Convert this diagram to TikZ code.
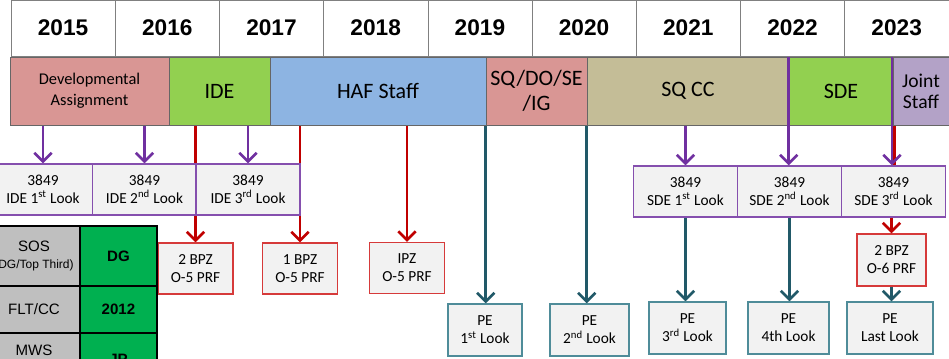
\documentclass[tikz,border=0pt]{standalone}
\usepackage{fontspec}
\setmainfont{Carlito}
\newfontfamily\arialfont{Liberation Sans}
\usetikzlibrary{arrows.meta,backgrounds}

\definecolor{devpink}{HTML}{D99694}
\definecolor{idegreen}{HTML}{92D050}
\definecolor{hafblue}{HTML}{8DB4E2}
\definecolor{sqcctan}{HTML}{C4BD97}
\definecolor{jointlav}{HTML}{B3A2C7}
\definecolor{lookpurple}{HTML}{7030A0}
\definecolor{prfred}{HTML}{C00000}
\definecolor{prfline}{HTML}{D63A3A}
\definecolor{peteal}{HTML}{215968}
\definecolor{peline}{HTML}{4F8C99}
\definecolor{boxgray}{HTML}{F2F2F2}
\definecolor{tabgray}{HTML}{BFBFBF}
\definecolor{tabgreen}{HTML}{00B050}

\begin{document}
\begin{tikzpicture}[
  x=0.75pt, y=-0.75pt,
  every node/.style={inner sep=0pt, align=center}, % boxes are sized by hand
  yearcell/.style={draw=gray, fill=white, minimum width=78.15pt, minimum height=42pt,
    font=\arialfont\bfseries\fontsize{17}{20}\selectfont},
  phase/.style={draw=black!60, minimum height=51pt, font=\fontsize{16.5}{19}\selectfont},
  lookbox/.style={draw=lookpurple!85, line width=0.9pt, fill=boxgray, minimum width=78pt,
    minimum height=38.25pt, font=\fontsize{11.5}{13.5}\selectfont},
  prfbox/.style={draw=prfline, line width=0.9pt, fill=boxgray, minimum width=56.25pt,
    minimum height=38.25pt, font=\fontsize{11.5}{13.5}\selectfont},
  pebox/.style={draw=peline, line width=0.9pt, fill=boxgray, minimum width=58.5pt,
    minimum height=39pt, font=\fontsize{11.5}{13.5}\selectfont},
  tabcell/.style={draw=black, line width=2pt},
  tabtext/.style={font=\arialfont\fontsize{11.3}{13}\selectfont},
  arr/.style={line width=2pt, -{Straight Barb[length=6.5pt,width=13pt]}},
  lookarr/.style={arr, lookpurple},
  prfarr/.style={arr, prfred},
  pearr/.style={arr, peteal}
]
\useasboundingbox (0,0) rectangle (949,358);
\clip (0,0) rectangle (949,358);

% years
\foreach \yr [count=\i from 0] in {2015,2016,2017,2018,2019,2020,2021,2022,2023}
  \node[yearcell] (y\yr) at ({63.1+104.2*\i},28) {\yr};

% assignments
\node[phase, fill=devpink, minimum width=119.25pt, font=\fontsize{12.3}{15.5}\selectfont]
  (devA) at (89.5,91) {Developmental\\Assignment};
\node[phase, fill=idegreen, minimum width=75.75pt] (ide) at (219.5,91) {IDE};
\node[phase, fill=hafblue, minimum width=162pt] (haf) at (378,91) {HAF Staff};
\node[phase, fill=devpink, minimum width=75.75pt] (sqdo) at (536.5,91) {SQ/DO/SE\\/IG};
\node[phase, fill=sqcctan, minimum width=151.5pt] (sqcc) at (688,91) {SQ CC};
\node[phase, fill=idegreen, minimum width=78pt] (sde) at (841,91) {SDE};
\node[phase, fill=jointlav, minimum width=42pt, font=\fontsize{14.7}{16}\selectfont]
  (joint) at (921,91) {Joint\\Staff};

% 3849 looks
\node[lookbox] (ide1) at (43,189.5) {3849\\IDE 1\textsuperscript{st} Look};
\node[lookbox] (ide2) at (144.5,189.5) {3849\\IDE 2\textsuperscript{nd} Look};
\node[lookbox] (ide3) at (248,189.5) {3849\\IDE 3\textsuperscript{rd} Look};
\node[lookbox] (sde1) at (685.5,191.5) {3849\\SDE 1\textsuperscript{st} Look};
\node[lookbox] (sde2) at (789.5,191.5) {3849\\SDE 2\textsuperscript{nd} Look};
\node[lookbox] (sde3) at (893.5,191.5) {3849\\SDE 3\textsuperscript{rd} Look};

% promotion boards
\node[prfbox] (bpz2) at (195.5,268.5) {2 BPZ\\O-5 PRF};
\node[prfbox] (bpz1) at (300,268.5) {1 BPZ\\O-5 PRF};
\node[prfbox] (ipz) at (407,268) {IPZ\\O-5 PRF};
\node[prfbox, minimum width=51.75pt, minimum height=39pt] (bpz6) at (891.5,260) {2 BPZ\\O-6 PRF};

% PE looks
\node[pebox, minimum width=55.5pt] (pe1) at (485,330) {PE\\1\textsuperscript{st} Look};
\node[pebox, minimum width=59.25pt] (pe2) at (589.5,330) {PE\\2\textsuperscript{nd} Look};
\node[pebox, minimum width=57.75pt] (pe3) at (687.5,328) {PE\\3\textsuperscript{rd} Look};
\node[pebox, minimum width=60.75pt] (pe4) at (788.5,328) {PE\\4th Look};
\node[pebox, minimum width=64.5pt] (peL) at (890,328) {PE\\Last Look};

% table
\node[tabcell, fill=tabgray, minimum width=69pt, minimum height=45pt, tabtext] (sos) at (34,256)
  {SOS\\{\fontsize{9}{11}\selectfont(DG/Top Third)}};
\node[tabcell, fill=tabgreen, minimum width=57.75pt, minimum height=45pt, tabtext, font=\arialfont\bfseries\fontsize{11.3}{13}\selectfont]
  (sosv) at (118.5,256) {DG};
\node[tabcell, fill=tabgray, minimum width=69pt, minimum height=35.25pt, tabtext] (flt) at (34,309.5) {FLT/CC};
\node[tabcell, fill=tabgreen, minimum width=57.75pt, minimum height=35.25pt, tabtext, font=\arialfont\bfseries\fontsize{11.3}{13}\selectfont]
  (fltv) at (118.5,309.5) {2012};
\node[tabcell, fill=tabgray, minimum width=69pt, minimum height=42pt] (mwsc) at (34,361) {};
\node[tabcell, fill=tabgreen, minimum width=57.75pt, minimum height=42pt] (mwsvc) at (118.5,361) {};
\node[tabtext, anchor=base] (mws) at (34,355) {MWS};
\node[tabtext, anchor=base, font=\arialfont\bfseries\fontsize{11.3}{13}\selectfont] (mwsv) at (118.5,364) {JP};

\begin{pgfonlayer}{background}
  \draw[lookarr] (devA.south -| ide1) -- (ide1.north);
  \draw[lookarr] (devA.south -| ide2) -- (ide2.north);
  \draw[lookarr] (ide.south -| ide3) -- (ide3.north);
  \draw[lookarr] (sqcc.south -| sde1) -- (sde1.north);
  \draw[prfarr] (ide.south -| bpz2) -- (bpz2.north);
  \draw[prfarr] (haf.south -| bpz1) -- (bpz1.north);
  \draw[prfarr] (haf.south -| ipz) -- (ipz.north);
  \draw[prfred, line width=2pt] ([xshift=1pt]sde.south east) -- ([xshift=1pt]sde.south east |- sde3.north);
  \draw[pearr] (sqdo.south west) -- (sqdo.south west |- pe1.north);
  \draw[pearr] (sqcc.south west) -- (sqcc.south west |- pe2.north);
  \draw[pearr] (sde1.south) -- (sde1.south |- pe3.north);
  \draw[pearr] (sde2.south) -- (sde2.south |- pe4.north);
\end{pgfonlayer}
\draw[lookarr] (sde.north west) -- (sde.north west |- sde2.north);
\draw[lookarr] ([xshift=-1pt]sde.north east) -- ([xshift=-1pt]sde.north east |- sde3.north);
\draw[prfarr] (sde3.south -| bpz6) -- (bpz6.north);
\draw[pearr] (bpz6.south) -- (bpz6.south |- peL.north);
\end{tikzpicture}
\end{document}
